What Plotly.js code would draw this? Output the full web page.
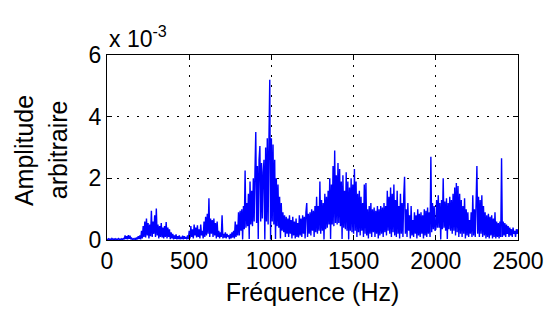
<!DOCTYPE html>
<html>
<head>
<meta charset="utf-8">
<script src="https://cdn.plot.ly/plotly-3.0.1.min.js"></script>
<style>
  html, body { margin: 0; padding: 0; background: #ffffff; }
  #chart { width: 546px; height: 311px; }
</style>
</head>
<body>
<div id="chart"></div>
<script>
// Amplitude spectrum (units of 1e-3), 5 Hz spacing
const freqStep = 5;
const amp0to495 = [
  0.03,0.01,0.04,0.02,0.03,0.01,0.05,0.02,0.03,0.02,0.04,0.01,0.03,0.02,0.05,0.02,0.03,0.01,0.04,0.02,
  0.05,0.02,0.15,0.03,0.12,0.02,0.16,0.04,0.14,0.02,0.06,0.01,0.04,0.02,0.05,0.01,0.08,0.02,0.12,0.03,
  0.15,0.02,0.3,0.05,0.45,0.1,0.6,0.08,0.7,0.15,0.55,0.05,0.5,0.12,0.95,0.1,0.6,0.2,0.8,0.1,
  1.02,0.15,0.5,0.05,0.45,0.1,0.55,0.08,0.4,0.05,0.45,0.1,0.58,0.05,0.4,0.1,0.35,0.03,0.25,0.05,
  0.2,0.02,0.15,0.04,0.18,0.02,0.12,0.03,0.15,0.02,0.1,0.03,0.14,0.02,0.12,0.04,0.1,0.02,0.15,0.03
];
const amp500to995 = [
  0.3,0.05,0.45,0.1,0.35,0.05,0.5,0.15,0.4,0.08,0.48,0.1,0.35,0.05,0.5,0.15,0.3,0.05,0.6,0.1,
  0.75,0.15,0.85,0.2,1.35,0.1,0.7,0.2,0.65,0.1,0.7,0.15,0.55,0.05,0.6,0.1,0.3,0.05,0.25,0.1,
  0.8,0.05,0.2,0.08,0.25,0.05,0.2,0.1,0.15,0.03,0.2,0.05,0.25,0.08,0.3,0.05,0.6,0.1,0.5,0.15,
  0.9,0.15,0.95,0.3,1.0,0.02,1.1,0.35,2.25,0.4,1.2,0.45,1.5,0.03,1.9,0.5,1.6,0.45,2.0,0.6,
  2.2,3.5,0.55,2.4,0.03,2.6,3.05,0.6,2.5,0.7,2.2,2.6,0.02,3.0,0.6,3.3,0.5,3.2,5.2,0.02
];
const amp1000to1495 = [
  3.3,0.6,3.1,0.5,2.6,0.03,2.0,0.45,1.8,0.4,1.4,0.05,1.2,0.3,0.9,0.25,0.8,0.1,0.75,0.2,
  0.7,0.1,0.8,0.2,0.65,0.05,0.75,0.15,0.6,0.05,0.7,0.1,0.55,0.08,0.8,0.15,0.7,0.1,0.8,0.2,
  0.75,0.05,0.9,1.2,0.1,0.85,0.2,0.9,0.15,1.0,0.3,0.95,0.1,1.1,0.25,1.4,0.2,1.1,0.3,1.9,
  0.2,1.3,0.3,1.2,0.02,1.5,0.35,1.4,0.4,1.6,0.5,2.0,0.03,1.8,0.5,2.4,0.45,2.9,0.55,2.1,
  0.5,2.5,0.55,2.3,0.45,1.9,0.03,2.1,0.4,1.6,0.35,2.2,0.3,1.9,0.02,1.7,0.3,2.0,0.25,1.8
];
const amp1500to1995 = [
  0.2,2.3,0.3,1.9,0.1,1.5,0.25,1.6,0.15,1.4,0.3,1.2,0.1,1.8,0.2,1.85,0.15,1.0,0.05,1.1,
  0.2,1.2,0.1,1.0,0.25,1.05,0.1,0.95,0.2,1.1,0.05,1.0,0.15,1.1,0.2,1.05,0.1,1.2,0.25,1.1,
  0.15,1.6,0.3,1.4,0.2,1.7,0.1,1.5,0.25,1.8,0.15,1.3,0.1,1.6,0.2,1.1,0.05,1.5,0.2,1.2,
  0.1,1.4,2.05,0.2,1.0,0.1,1.2,0.3,0.8,0.05,1.1,0.15,0.65,0.1,0.9,0.2,0.8,0.05,1.0,0.15,
  0.85,0.1,0.9,0.2,0.8,0.05,1.0,0.15,0.95,0.1,1.05,0.2,0.9,0.1,2.7,0.25,1.2,0.35,1.1,0.3
];
const amp2000to2500 = [
  0.35,1.3,0.4,1.45,0.4,1.2,0.02,1.3,0.35,2.0,0.4,1.25,0.3,1.35,0.03,1.2,0.35,1.4,0.3,1.3,
  0.2,1.5,0.3,1.7,0.15,1.85,0.25,1.75,0.1,1.5,0.2,1.3,0.1,1.1,0.2,1.35,0.05,1.0,0.15,0.9,
  0.1,0.65,0.2,0.9,0.1,1.45,0.15,1.0,0.1,1.2,2.4,0.2,1.4,0.1,1.3,0.2,1.45,0.1,1.1,0.15,
  0.9,0.05,0.8,0.1,0.85,0.05,0.75,0.15,0.8,0.05,0.7,0.1,0.9,0.05,0.6,0.1,0.55,0.05,0.6,0.1,
  2.65,0.1,0.6,0.15,0.55,0.1,0.5,0.2,0.45,0.1,0.4,0.15,0.35,0.1,0.4,0.2,0.3,0.1,0.35,0.2,0.35
];
const xTickVals = [0, 500, 1000, 1500, 2000, 2500];
const xTickText = ['0', '500', '1000', '1500', '2000', '2500'];
const yTickVals = [0, 2, 4, 6];
const yTickText = ['0', '2', '4', '6'];
const xLabel = 'Fréquence (Hz)';
const yLabelLines = ['Amplitude', 'arbitraire'];
const exponentLabel = 'x 10<sup>-3</sup>';

const amplitude = [].concat(amp0to495, amp500to995, amp1000to1495, amp1500to1995, amp2000to2500);
const frequency = amplitude.map((_, i) => i * freqStep);

const FONT = 'Liberation Sans, Arial, sans-serif';

const trace = {
  type: 'scatter',
  mode: 'lines',
  x: frequency,
  y: amplitude,
  line: { color: '#0000ff', width: 1.4, simplify: false },
  hoverinfo: 'skip',
  showlegend: false
};

const axisCommon = {
  showline: true,
  linecolor: '#000000',
  linewidth: 1,
  mirror: 'ticks',
  ticks: 'inside',
  ticklen: 5,
  tickwidth: 1,
  tickcolor: '#000000',
  showgrid: true,
  gridcolor: '#000000',
  gridwidth: 1,
  griddash: '2px,8px',
  zeroline: false,
  tickfont: { family: FONT, size: 23, color: '#000000' },
  fixedrange: true
};

const layout = {
  width: 546,
  height: 311,
  margin: { l: 107, r: 28, t: 55, b: 71, pad: 0 },
  paper_bgcolor: '#ffffff',
  plot_bgcolor: '#ffffff',
  font: { family: FONT, color: '#000000' },
  xaxis: Object.assign({}, axisCommon, {
    range: [0, 2500],
    tickmode: 'array',
    tickvals: xTickVals,
    ticktext: xTickText,
    title: { text: xLabel, font: { family: FONT, size: 25, color: '#000000' }, standoff: 10 }
  }),
  yaxis: Object.assign({}, axisCommon, {
    range: [0, 6],
    tickmode: 'array',
    tickvals: yTickVals,
    ticktext: yTickText
  }),
  annotations: [
    {
      text: exponentLabel,
      xref: 'paper', yref: 'paper',
      x: 0, y: 1.004,
      xanchor: 'left', yanchor: 'bottom',
      showarrow: false,
      font: { family: FONT, size: 23, color: '#000000' }
    },
    {
      text: yLabelLines[0],
      xref: 'paper', yref: 'paper',
      x: -0.202, y: 0.486,
      xanchor: 'center', yanchor: 'middle',
      textangle: -90,
      showarrow: false,
      font: { family: FONT, size: 25, color: '#000000' }
    },
    {
      text: yLabelLines[1],
      xref: 'paper', yref: 'paper',
      x: -0.119, y: 0.486,
      xanchor: 'center', yanchor: 'middle',
      textangle: -90,
      showarrow: false,
      font: { family: FONT, size: 25, color: '#000000' }
    }
  ]
};

Plotly.newPlot('chart', [trace], layout, { staticPlot: true, displayModeBar: false });
</script>
</body>
</html>
